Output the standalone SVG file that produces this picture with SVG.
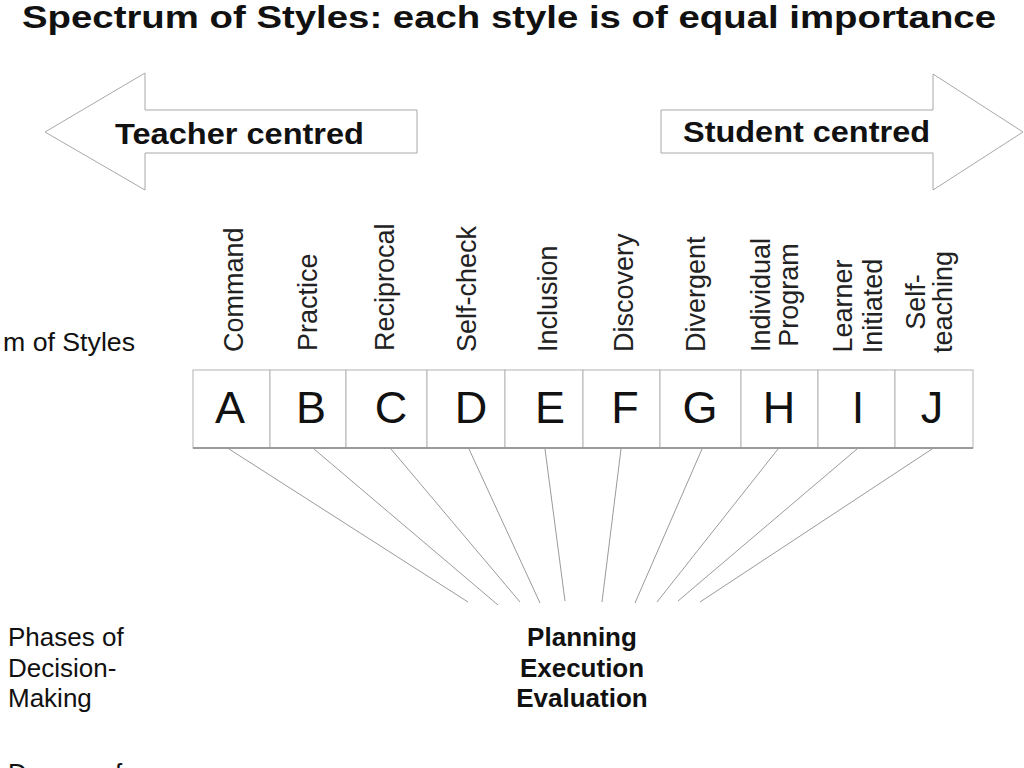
<svg xmlns="http://www.w3.org/2000/svg" width="1024" height="768" viewBox="0 0 1024 768">
<style>
.t{font-family:"Liberation Sans",Arial,sans-serif;fill:#111}
.b{font-weight:bold}
.arrow{fill:#fff;stroke:#a8a8a8;stroke-width:1}
.box{fill:#fff;stroke:#b4b4b4;stroke-width:1}
.let{font-family:"Liberation Sans",Arial,sans-serif;font-size:45px;fill:#111;text-anchor:middle}
.lab{font-family:"Liberation Sans",Arial,sans-serif;font-size:27px;fill:#222}
.mid{text-anchor:middle}
.con line{stroke:#9a9a9a;stroke-width:1}
</style>
<rect width="1024" height="768" fill="#fff"/>
<text class="t b" x="22" y="28" font-size="32" textLength="974" lengthAdjust="spacingAndGlyphs">Spectrum of Styles: each style is of equal importance</text>

<g id="teacher-centred">
<polygon class="arrow" points="45,132 145,73 145,110 417,110 417,153 145,153 145,190"/>
<text class="t b" x="115" y="144" font-size="30" textLength="249" lengthAdjust="spacingAndGlyphs">Teacher centred</text>
</g>
<g id="student-centred">
<polygon class="arrow" points="661,110 933,110 933,74 1023,132 933,190 933,153 661,153"/>
<text class="t b" x="683" y="142" font-size="30" textLength="247" lengthAdjust="spacingAndGlyphs">Student centred</text>
</g>

<text class="t" x="3" y="351" font-size="26" textLength="132" lengthAdjust="spacingAndGlyphs">m of Styles</text>

<g id="style-A"><rect class="box" x="193" y="370" width="77" height="78"/><text class="let" x="230" y="423">A</text>
<text class="lab" transform="translate(243,352) rotate(-90)">Command</text></g>
<g id="style-B"><rect class="box" x="270" y="370" width="76" height="78"/><text class="let" x="311" y="423">B</text>
<text class="lab" transform="translate(317,351) rotate(-90)">Practice</text></g>
<g id="style-C"><rect class="box" x="346" y="370" width="81" height="78"/><text class="let" x="391" y="423">C</text>
<text class="lab" transform="translate(394,351) rotate(-90)">Reciprocal</text></g>
<g id="style-D"><rect class="box" x="427" y="370" width="78" height="78"/><text class="let" x="471" y="423">D</text>
<text class="lab" transform="translate(476,352) rotate(-90)">Self-check</text></g>
<g id="style-E"><rect class="box" x="505" y="370" width="78" height="78"/><text class="let" x="550" y="423">E</text>
<text class="lab" transform="translate(557,352) rotate(-90)">Inclusion</text></g>
<g id="style-F"><rect class="box" x="583" y="370" width="77" height="78"/><text class="let" x="625" y="423">F</text>
<text class="lab" transform="translate(633,352) rotate(-90)">Discovery</text></g>
<g id="style-G"><rect class="box" x="660" y="370" width="81" height="78"/><text class="let" x="700" y="423">G</text>
<text class="lab" transform="translate(705,352) rotate(-90)">Divergent</text></g>
<g id="style-H"><rect class="box" x="741" y="370" width="77" height="78"/><text class="let" x="779" y="423">H</text>
<text class="lab mid" transform="translate(770,295) rotate(-90)">Individual</text>
<text class="lab mid" transform="translate(798,295) rotate(-90)">Program</text></g>
<g id="style-I"><rect class="box" x="818" y="370" width="77" height="78"/><text class="let" x="858" y="423">I</text>
<text class="lab mid" transform="translate(852,306) rotate(-90)">Learner</text>
<text class="lab mid" transform="translate(882,306) rotate(-90)">Initiated</text></g>
<g id="style-J"><rect class="box" x="895" y="370" width="78" height="78"/><text class="let" x="932" y="423">J</text>
<text class="lab mid" transform="translate(925,302) rotate(-90)">Self-</text>
<text class="lab mid" transform="translate(952,302) rotate(-90)">teaching</text></g>
<line x1="193" y1="448" x2="973" y2="448" stroke="#9a9a9a" stroke-width="2"/>

<g id="connectors" class="con">
<line x1="229" y1="449" x2="468" y2="602"/>
<line x1="314" y1="449" x2="498" y2="605"/>
<line x1="391" y1="449" x2="520" y2="602"/>
<line x1="469" y1="449" x2="540" y2="603"/>
<line x1="545" y1="449" x2="565" y2="601"/>
<line x1="621" y1="449" x2="602" y2="602"/>
<line x1="702" y1="449" x2="635" y2="603"/>
<line x1="778" y1="449" x2="657" y2="602"/>
<line x1="857" y1="449" x2="678" y2="601"/>
<line x1="932" y1="449" x2="700" y2="602"/>
</g>

<g id="phases-label">
<text class="t" font-size="26" x="8" y="646">Phases of</text>
<text class="t" font-size="26" x="8" y="677">Decision-</text>
<text class="t" font-size="26" x="8" y="707">Making</text>
</g>
<g id="phases">
<text class="t b mid" font-size="26" x="582" y="646">Planning</text>
<text class="t b mid" font-size="26" x="582" y="677">Execution</text>
<text class="t b mid" font-size="26" x="582" y="707">Evaluation</text>
</g>
<text class="t" font-size="26" x="8" y="782">Degree of</text>
</svg>
